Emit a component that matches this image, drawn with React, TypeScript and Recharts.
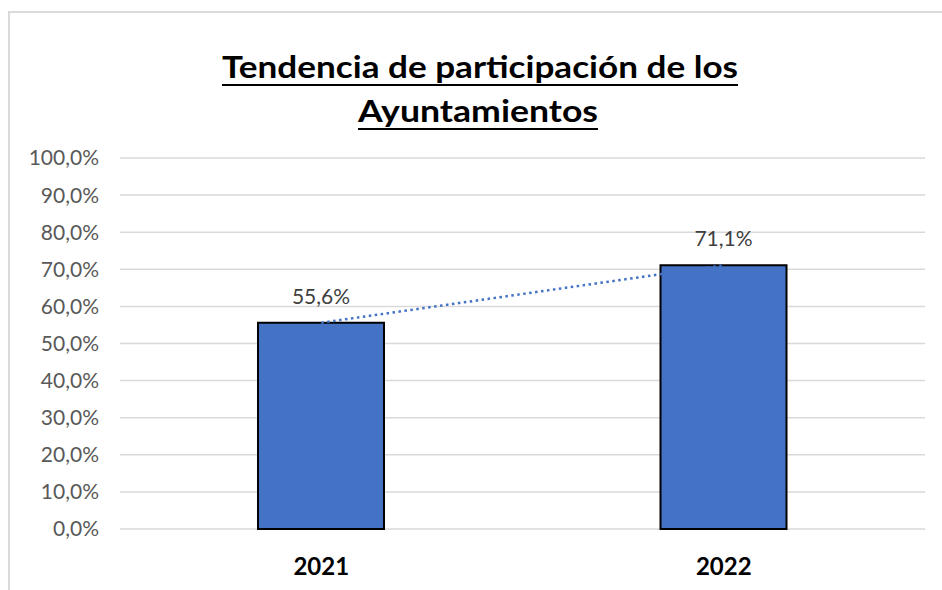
import React from 'react';
import { ComposedChart, Bar, Line, XAxis, YAxis, CartesianGrid, LabelList } from 'recharts';

const categories = ['2021', '2022'];
const participation = [55.6, 71.1];
const yTicks = [0, 10, 20, 30, 40, 50, 60, 70, 80, 90, 100];
const titleLines = ['Tendencia de participación de los', 'Ayuntamientos'];

const data = categories.map((c, i) => ({ year: c, value: participation[i] }));

const fmt = (v: number) => `${v.toFixed(1).replace('.', ',')}%`;

const FONT = 'Lato, "Open Sans", sans-serif';

export default function App() {
  return (
    <div style={{ position: 'absolute', left: 0, top: 0, width: 942, height: 590, overflow: 'hidden', background: '#fff' }}>
      <div
        style={{
          position: 'absolute',
          left: 8,
          top: 11,
          width: 980,
          height: 640,
          border: '2px solid #d9d9d9',
          boxSizing: 'border-box',
        }}
      />
      <div style={{ position: 'absolute', left: 0, top: 0 }}>
        <ComposedChart
          width={942}
          height={590}
          data={data}
          margin={{ top: 158, right: 17, bottom: 0, left: 0 }}
        >
          <CartesianGrid vertical={false} stroke="#d9d9d9" strokeWidth={1.5} />
          <XAxis
            dataKey="year"
            axisLine={false}
            tickLine={false}
            tickSize={0}
            tickMargin={29}
            height={61}
            tick={{ fontFamily: FONT, fontSize: 24, fontWeight: 700, fill: '#000' }}
          />
          <YAxis
            domain={[0, 100]}
            ticks={yTicks}
            interval={0}
            width={120}
            axisLine={false}
            tickLine={false}
            tickSize={0}
            tickMargin={21}
            tickFormatter={fmt}
            tick={{ fontFamily: FONT, fontSize: 21, fill: '#595959' }}
          />
          <Bar dataKey="value" fill="#4472C4" stroke="#000" strokeWidth={2} barSize={126} isAnimationActive={false}>
            <LabelList
              dataKey="value"
              position="top"
              offset={19}
              formatter={(v: any) => fmt(Number(v))}
              style={{ fontFamily: FONT, fontSize: 21, fill: '#404040' }}
            />
          </Bar>
          <Line
            type="linear"
            dataKey="value"
            stroke="#4472C4"
            strokeWidth={2.5}
            strokeDasharray="2.5 3.5"
            dot={false}
            activeDot={false}
            isAnimationActive={false}
          />
        </ComposedChart>
      </div>
      <svg width={942} height={590} style={{ position: 'absolute', left: 0, top: 0, pointerEvents: 'none' }}>
        <text
          x={480}
          y={78}
          textAnchor="middle"
          fontFamily={FONT}
          fontWeight={700}
          fontSize={31}
          textLength={516}
          lengthAdjust="spacingAndGlyphs"
          fill="#000"
        >
          {titleLines[0]}
        </text>
        <line x1={222} x2={738} y1={85} y2={85} stroke="#000" strokeWidth={2} />
        <text
          x={478}
          y={122}
          textAnchor="middle"
          fontFamily={FONT}
          fontWeight={700}
          fontSize={31}
          textLength={240}
          lengthAdjust="spacingAndGlyphs"
          fill="#000"
        >
          {titleLines[1]}
        </text>
        <line x1={358} x2={598} y1={129} y2={129} stroke="#000" strokeWidth={2} />
      </svg>
    </div>
  );
}
